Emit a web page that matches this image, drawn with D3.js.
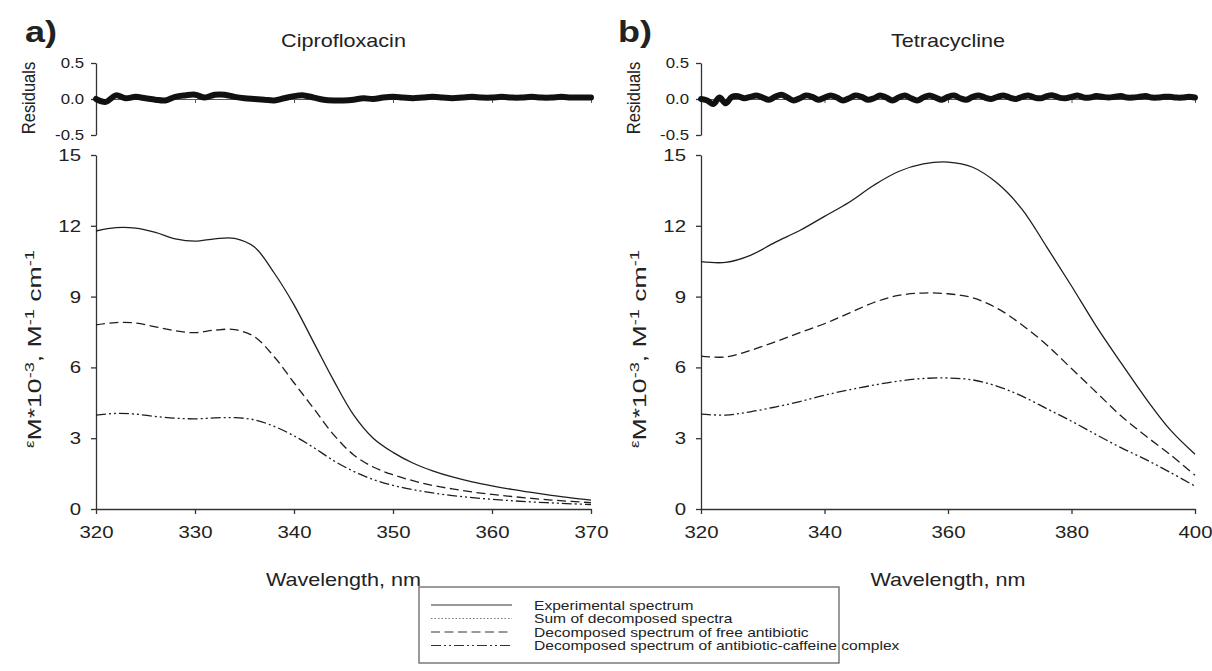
<!DOCTYPE html>
<html>
<head>
<meta charset="utf-8">
<script src="https://cdn.jsdelivr.net/npm/d3@7/dist/d3.min.js"></script>
<style>
  body { margin: 0; background: #fff; }
  text { font-family: "Liberation Sans", Arial, sans-serif; fill: #222; }
</style>
</head>
<body>
<script>
// ---- data ----
// Ciprofloxacin, 320-370 nm every 2 nm
let cipWl = [320, 322, 324, 326, 328, 330, 332, 334, 336, 338, 340, 342, 344, 346, 348, 350, 352, 354, 356, 358, 360, 362, 364, 366, 368, 370];
let cipExp = [11.78, 11.92, 11.90, 11.72, 11.45, 11.35, 11.45, 11.47, 11.10, 10.00, 8.65, 7.05, 5.45, 4.00, 3.00, 2.40, 1.95, 1.62, 1.36, 1.15, 0.98, 0.83, 0.70, 0.58, 0.47, 0.38];
let cipFree = [7.80, 7.90, 7.88, 7.72, 7.55, 7.47, 7.58, 7.60, 7.30, 6.45, 5.35, 4.25, 3.15, 2.30, 1.78, 1.45, 1.20, 1.00, 0.85, 0.72, 0.62, 0.53, 0.45, 0.38, 0.32, 0.27];
let cipComplex = [3.98, 4.05, 4.02, 3.92, 3.85, 3.82, 3.86, 3.87, 3.78, 3.50, 3.10, 2.60, 2.05, 1.60, 1.25, 1.00, 0.82, 0.68, 0.57, 0.48, 0.41, 0.35, 0.30, 0.26, 0.22, 0.19];
// Ciprofloxacin residuals, 320-370 nm every 1 nm
let cipResWl = [320, 321, 322, 323, 324, 325, 326, 327, 328, 329, 330, 331, 332, 333, 334, 335, 336, 337, 338, 339, 340, 341, 342, 343, 344, 345, 346, 347, 348, 349, 350, 351, 352, 353, 354, 355, 356, 357, 358, 359, 360, 361, 362, 363, 364, 365, 366, 367, 368, 369, 370];
let cipRes = [0.00, -0.04, 0.05, 0.01, 0.03, 0.01, -0.01, -0.02, 0.03, 0.05, 0.06,
  0.02, 0.06, 0.06, 0.03, 0.01, 0.00, -0.01, -0.02, 0.01, 0.04,
  0.05, 0.02, -0.01, -0.02, -0.02, -0.01, 0.01, 0.00, 0.02, 0.03,
  0.02, 0.01, 0.02, 0.03, 0.02, 0.01, 0.02, 0.03, 0.02, 0.02,
  0.03, 0.02, 0.02, 0.03, 0.02, 0.02, 0.03, 0.02, 0.02, 0.02];

// Tetracycline, 320-400 nm every 4 nm
let tetWl = [320, 324, 328, 332, 336, 340, 344, 348, 352, 356, 360, 364, 368, 372, 376, 380, 384, 388, 392, 396, 400];
let tetExp = [10.48, 10.45, 10.75, 11.30, 11.80, 12.40, 13.00, 13.72, 14.30, 14.62, 14.70, 14.48, 13.80, 12.70, 11.10, 9.45, 7.75, 6.20, 4.70, 3.35, 2.32];
let tetFree = [6.48, 6.44, 6.72, 7.08, 7.47, 7.85, 8.30, 8.75, 9.05, 9.15, 9.12, 8.95, 8.50, 7.80, 6.95, 5.95, 4.95, 3.95, 3.10, 2.30, 1.43];
let tetComplex = [4.02, 3.98, 4.12, 4.32, 4.55, 4.82, 5.05, 5.25, 5.42, 5.53, 5.55, 5.47, 5.20, 4.78, 4.25, 3.72, 3.15, 2.60, 2.10, 1.55, 0.97];
// Tetracycline residuals, 320-400 nm every 1 nm
let tetResWl = [320, 321, 322, 323, 324, 325, 326, 327, 328, 329, 330, 331, 332, 333, 334, 335, 336, 337, 338, 339, 340,
  341, 342, 343, 344, 345, 346, 347, 348, 349, 350, 351, 352, 353, 354, 355, 356, 357, 358, 359, 360,
  361, 362, 363, 364, 365, 366, 367, 368, 369, 370, 371, 372, 373, 374, 375, 376, 377, 378, 379, 380,
  381, 382, 383, 384, 385, 386, 387, 388, 389, 390, 391, 392, 393, 394, 395, 396, 397, 398, 399, 400];
let tetRes = [0.00, -0.02, -0.07, 0.02, -0.06, 0.03, 0.04, 0.01, 0.03, 0.05, 0.02,
  -0.01, 0.03, 0.06, 0.02, -0.02, 0.01, 0.05, 0.03, -0.01, 0.02,
  0.05, 0.02, -0.02, 0.01, 0.05, 0.03, -0.01, 0.01, 0.05, 0.02,
  -0.02, 0.02, 0.05, 0.01, -0.02, 0.02, 0.05, 0.02, -0.01, 0.03,
  0.05, 0.01, -0.01, 0.03, 0.05, 0.02, 0.00, 0.03, 0.05, 0.02,
  0.00, 0.03, 0.05, 0.02, 0.01, 0.04, 0.05, 0.02, 0.01, 0.03,
  0.05, 0.02, 0.02, 0.04, 0.03, 0.02, 0.03, 0.04, 0.02, 0.02,
  0.03, 0.04, 0.02, 0.02, 0.03, 0.03, 0.02, 0.02, 0.03, 0.02];

let mainTicks = [0, 3, 6, 9, 12, 15];
let resTicks = [-0.5, 0, 0.5];
let legendLabels = ["Experimental spectrum", "Sum of decomposed spectra", "Decomposed spectrum of free antibiotic", "Decomposed spectrum of antibiotic-caffeine complex"];

// ---- layout ----
let svgWidth = 1212, svgHeight = 671;
let sx = 1.2; // the figure is a bit wider than tall: text is stretched the same way
let lineColor = "#1e1e1e";
let dashes = { exp: null, sum: "1.5,2", free: "9,4.5", complex: "10,3,2,3,2,3" };
let fontFam = "Liberation Sans, Arial, sans-serif";

let svg = d3.select("body").append("svg")
  .attr("width", svgWidth)
  .attr("height", svgHeight);

function addText(x, y, str, size, anchor, bold) {
  let t = svg.append("g")
    .attr("transform", `translate(${x},${y}) scale(${sx},1)`)
    .append("text").text(str)
    .attr("font-size", size)
    .attr("text-anchor", anchor);
  if (bold) t.attr("font-weight", "bold");
  return t;
}

// rotated text; kx / ky stretch it on screen
function addVText(x, y, size, kx, ky) {
  return svg.append("g")
    .attr("transform", `translate(${x},${y}) scale(${kx},${ky}) rotate(-90)`)
    .append("text")
    .attr("font-size", size)
    .attr("text-anchor", "middle");
}

function styleAxis(g, size) {
  g.selectAll("path, line").attr("stroke", "#333").attr("stroke-width", 1.3);
  g.selectAll("text").attr("font-size", size).attr("fill", "#222")
    .attr("font-family", fontFam)
    .attr("transform", `scale(${sx},1)`);
}

function drawPanel(p) {
  let x = d3.scaleLinear().domain(p.xDomain).range([p.left, p.right]);
  let y = d3.scaleLinear().domain([0, 15]).range([509, 155]);
  let yr = d3.scaleLinear().domain([-0.5, 0.5]).range([135, 63]);

  // residual panel: zero line with ticks, hidden under the points
  let rx = svg.append("g").attr("transform", `translate(0,${yr(0)})`)
    .call(d3.axisBottom(x).tickValues(p.xTicks).tickSize(4).tickSizeOuter(0).tickFormat(""));
  rx.selectAll("path, line").attr("stroke", "#555").attr("stroke-width", 1);

  let ry = svg.append("g").attr("transform", `translate(${p.left},0)`)
    .call(d3.axisLeft(yr).tickValues(resTicks).tickSize(5).tickSizeOuter(0).tickPadding(5)
      .tickFormat(d => d.toFixed(1)));
  styleAxis(ry, 14);

  let resLine = d3.line().x(d => x(d[0])).y(d => yr(d[1])).curve(d3.curveCatmullRom);
  svg.append("path")
    .datum(p.resWl.map((w, i) => [w, p.res[i]]))
    .attr("d", resLine)
    .attr("fill", "none")
    .attr("stroke", "#111")
    .attr("stroke-width", 6)
    .attr("stroke-linecap", "round")
    .attr("stroke-linejoin", "round");

  // main axes
  let xa = svg.append("g").attr("transform", `translate(0,${y(0)})`)
    .call(d3.axisBottom(x).tickValues(p.xTicks).tickSize(5).tickSizeOuter(0).tickPadding(12));
  styleAxis(xa, 17);

  let ya = svg.append("g").attr("transform", `translate(${p.left},0)`)
    .call(d3.axisLeft(y).tickValues(mainTicks).tickSize(5).tickSizeOuter(0).tickPadding(7.5));
  styleAxis(ya, 17);

  // spectra
  let line = d3.line().x(d => x(d[0])).y(d => y(d[1])).curve(d3.curveCatmullRom);
  [[p.exp, dashes.exp], [p.free, dashes.free], [p.complex, dashes.complex]].forEach(([vals, dash]) => {
    svg.append("path")
      .datum(p.wl.map((w, i) => [w, vals[i]]))
      .attr("d", line)
      .attr("fill", "none")
      .attr("stroke", lineColor)
      .attr("stroke-width", 1.3)
      .attr("stroke-dasharray", dash);
  });

  // labels
  addText(p.labelX, 42, p.letter, 30, "start", true).attr("fill", "#111");
  addText((p.left + p.right) / 2, 47, p.title, 18, "middle");
  addText((p.left + p.right) / 2, 586, "Wavelength, nm", 18, "middle");
  addVText(p.left - 61, 98, 15, sx, 1.1).text("Residuals");

  let yl = addVText(p.left - 55, 349, 19, 1, 1.4);
  yl.append("tspan").text("ε").attr("font-size", 12).attr("dy", -7);
  yl.append("tspan").text("M").attr("dy", 7);
  yl.append("tspan").text("*10");
  yl.append("tspan").text("-3").attr("font-size", 13).attr("dy", -7);
  yl.append("tspan").text(", M").attr("dy", 7);
  yl.append("tspan").text("-1").attr("font-size", 13).attr("dy", -7);
  yl.append("tspan").text(" cm").attr("dy", 7);
  yl.append("tspan").text("-1").attr("font-size", 13).attr("dy", -7);
}

drawPanel({
  letter: "a)", title: "Ciprofloxacin", labelX: 25,
  left: 96, right: 591, xDomain: [320, 370], xTicks: [320, 330, 340, 350, 360, 370],
  wl: cipWl, exp: cipExp, free: cipFree, complex: cipComplex,
  resWl: cipResWl, res: cipRes
});
drawPanel({
  letter: "b)", title: "Tetracycline", labelX: 618,
  left: 701, right: 1195, xDomain: [320, 400], xTicks: [320, 340, 360, 380, 400],
  wl: tetWl, exp: tetExp, free: tetFree, complex: tetComplex,
  resWl: tetResWl, res: tetRes
});

// ---- legend ----
let legend = svg.append("g");
legend.append("rect")
  .attr("x", 419).attr("y", 587).attr("width", 420).attr("height", 76)
  .attr("fill", "#fff").attr("stroke", "#666").attr("stroke-width", 1.3);
let legendDash = [dashes.exp, dashes.sum, dashes.free, dashes.complex];
legendLabels.forEach((lab, i) => {
  let ly = 605 + i * 13.5;
  legend.append("line")
    .attr("x1", 431).attr("x2", 512).attr("y1", ly).attr("y2", ly)
    .attr("stroke", i === 1 ? "#777" : "#333")
    .attr("stroke-width", 1.2)
    .attr("stroke-dasharray", legendDash[i]);
  legend.append("g")
    .attr("transform", `translate(534,${ly + 4.5}) scale(1.3,1)`)
    .append("text").text(lab)
    .attr("font-size", 12);
});
</script>
</body>
</html>
